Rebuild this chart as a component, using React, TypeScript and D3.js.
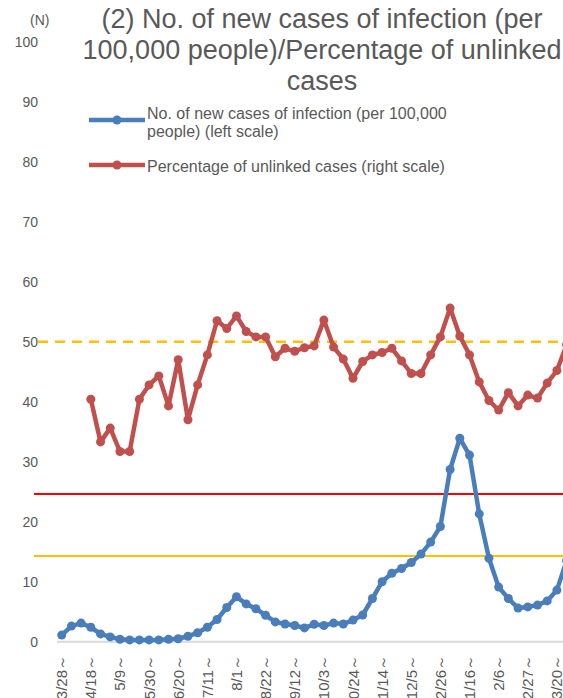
import React from "react";
import * as d3 from "d3";

const categories = [
  "3/28", "4/4", "4/11", "4/18", "4/25", "5/2", "5/9", "5/16", "5/23", "5/30",
  "6/6", "6/13", "6/20", "6/27", "7/4", "7/11", "7/18", "7/25", "8/1", "8/8",
  "8/15", "8/22", "8/29", "9/5", "9/12", "9/19", "9/26", "10/3", "10/10", "10/17",
  "10/24", "10/31", "11/7", "11/14", "11/21", "11/28", "12/5", "12/12", "12/19", "12/26",
  "1/2", "1/9", "1/16", "1/23", "1/30", "2/6", "2/13", "2/20", "2/27", "3/6",
  "3/13", "3/20", "3/27",
];

const tickLabels = [
  "3/28", "4/18", "5/9", "5/30", "6/20", "7/11", "8/1", "8/22", "9/12", "10/3",
  "10/24", "11/14", "12/5", "12/26", "1/16", "2/6", "2/27", "3/20",
];

const newCases = [
  1.1, 2.6, 3.1, 2.4, 1.3, 0.8, 0.4, 0.3, 0.3, 0.3,
  0.3, 0.4, 0.5, 0.9, 1.5, 2.4, 3.7, 5.7, 7.5, 6.3,
  5.5, 4.4, 3.3, 2.95, 2.7, 2.3, 2.9, 2.7, 3.1, 2.95,
  3.6, 4.45, 7.2, 10.0, 11.4, 12.2, 13.2, 14.6, 16.6, 19.2,
  28.7, 33.9, 31.1, 21.3, 13.9, 9.1, 7.2, 5.6, 5.8, 6.1,
  6.8, 8.6, 13.5,
];

const unlinkedPct: (number | null)[] = [
  null, null, null, 40.4, 33.3, 35.6, 31.7, 31.7, 40.4, 42.8,
  44.3, 39.3, 47.0, 37.0, 42.8, 47.8, 53.5, 52.2, 54.3, 51.7,
  50.8, 50.8, 47.5, 48.9, 48.4, 49.0, 49.3, 53.6, 49.1, 47.1,
  43.9, 46.7, 47.8, 48.2, 48.9, 46.8, 44.7, 44.7, 47.8, 50.8,
  55.6, 50.95, 47.8, 43.3, 40.2, 38.6, 41.5, 39.3, 41.1, 40.6,
  43.1, 45.2, 49.5,
];

const yTicks = [0, 10, 20, 30, 40, 50, 60, 70, 80, 90, 100];

const thresholdRed = 24.6;
const thresholdYellow = 14.3;
const thresholdDashed = 50;

const titleLines = [
  "(2) No. of new cases of infection (per",
  "100,000 people)/Percentage of unlinked",
  "cases",
];
const legendBlue = ["No. of new cases of infection (per 100,000", "people) (left scale)"];
const legendRed = "Percentage of unlinked cases (right scale)";

const W = 563;
const H = 698;
const FONT = "'Liberation Sans', Arial, Helvetica, sans-serif";
const TEXT = "#595959";
const BLUE = "#4A7EBB";
const RED = "#C0504D";

export default function App() {
  const x = d3
    .scalePoint<string>()
    .domain(categories)
    .range([61.7, 61.7 + 9.71 * (categories.length - 1)]);
  const y = d3.scaleLinear().domain([0, 100]).range([641.7, 41.7]);

  const blueData = categories.map((c, i) => ({ c, v: newCases[i] as number | null }));
  const redData = categories.map((c, i) => ({ c, v: unlinkedPct[i] }));

  const line = d3
    .line<{ c: string; v: number | null }>()
    .defined((d) => d.v != null)
    .x((d) => x(d.c) as number)
    .y((d) => y(d.v as number));

  return (
    <svg
      width={W}
      height={H}
      style={{ position: "absolute", left: 0, top: 0, background: "#fff" }}
      fontFamily={FONT}
    >
      <rect x={0} y={0} width={W} height={H} fill="#fff" />
      {/* title */}
      {titleLines.map((t, i) => (
        <text key={t} x={322} y={28 + i * 31} textAnchor="middle" fontSize={27} fill={TEXT}>
          {t}
        </text>
      ))}
      <text x={30} y={25} fontSize={14} fill={TEXT}>
        (N)
      </text>
      {/* y ticks */}
      {yTicks.map((t) => (
        <text key={t} x={38} y={y(t)} dy="0.35em" textAnchor="end" fontSize={14} fill={TEXT}>
          {t}
        </text>
      ))}
      {/* baseline */}
      <line x1={57} x2={W} y1={y(0)} y2={y(0)} stroke="#D9D9D9" strokeWidth={2} />
      {/* thresholds */}
      <line x1={34} x2={W} y1={y(thresholdRed)} y2={y(thresholdRed)} stroke="#FF0000" strokeWidth={2} />
      <line x1={34} x2={W} y1={y(thresholdYellow)} y2={y(thresholdYellow)} stroke="#FFC000" strokeWidth={2} />
      <line
        x1={38}
        x2={W}
        y1={y(thresholdDashed)}
        y2={y(thresholdDashed)}
        stroke="#FFC000"
        strokeWidth={2.5}
        strokeDasharray="10 7"
      />
      {/* series */}
      <path d={line(redData) || ""} fill="none" stroke={RED} strokeWidth={4.5} strokeLinejoin="round" />
      {redData.map((d) =>
        d.v == null ? null : <circle key={"r" + d.c} cx={x(d.c)} cy={y(d.v)} r={4.5} fill={RED} />
      )}
      <path d={line(blueData) || ""} fill="none" stroke={BLUE} strokeWidth={4.5} strokeLinejoin="round" />
      {blueData.map((d) =>
        d.v == null ? null : <circle key={"b" + d.c} cx={x(d.c)} cy={y(d.v)} r={4.5} fill={BLUE} />
      )}
      {/* x labels */}
      {tickLabels.map((t) => (
        <text
          key={t}
          transform={`translate(${(x(t) as number) + 5.5},655) rotate(-90)`}
          textAnchor="end"
          fontSize={15}
          fill={TEXT}
        >
          {t + "～"}
        </text>
      ))}
      {/* legend */}
      <line x1={89} x2={145} y1={120} y2={120} stroke={BLUE} strokeWidth={4.5} />
      <circle cx={117} cy={120} r={4.5} fill={BLUE} />
      <text x={147} y={119} fontSize={16} fill={TEXT}>
        {legendBlue[0]}
      </text>
      <text x={147} y={137} fontSize={16} fill={TEXT}>
        {legendBlue[1]}
      </text>
      <line x1={89} x2={145} y1={165} y2={165} stroke={RED} strokeWidth={4.5} />
      <circle cx={117} cy={165} r={4.5} fill={RED} />
      <text x={147} y={172} fontSize={16} fill={TEXT}>
        {legendRed}
      </text>
    </svg>
  );
}
